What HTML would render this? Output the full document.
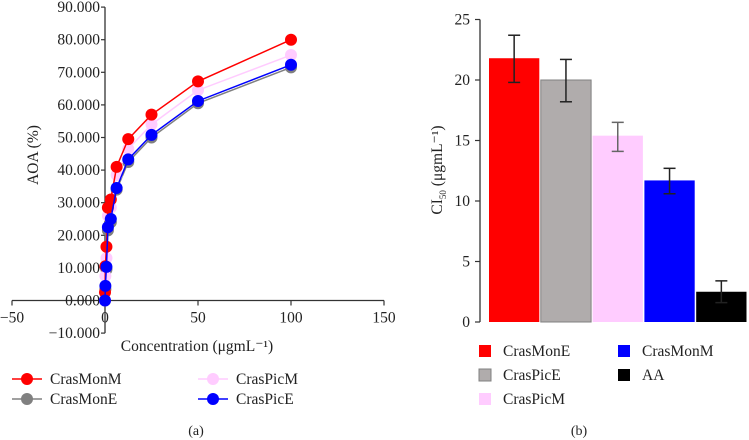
<!DOCTYPE html>
<html><head><meta charset="utf-8"><style>
body{margin:0;background:#fff;}
svg{display:block;font-family:"Liberation Serif",serif;}
</style></head><body>
<svg width="749" height="440" viewBox="0 0 749 440">
<g id="left"></g>
<g id="right"></g>
</svg>
<script>
const seriesNames = ["CrasMonE", "CrasPicM", "CrasMonM", "CrasPicE"];
const valCrasMonE = [0, 3.5, 9.5, 21.5, 24, 34, 42.5, 50, 60.5, 71.5];
const valCrasPicM = [0, 7.5, 13, 26, 28.5, 38.5, 46.5, 54, 64.5, 75.3];
const valCrasMonM = [2.5, 10.5, 16.5, 28.5, 31, 41, 49.5, 57, 67.2, 80];
const valCrasPicE = [0, 4.5, 10.3, 22.5, 25, 34.5, 43.3, 50.8, 61.2, 72.3];
const xConcFull = [0, 0.2, 0.78, 1.56, 3.125, 6.25, 12.5, 25, 50, 100];
const xTicks = [-50, 0, 50, 100, 150];
const yTicks = [-10, 0, 10, 20, 30, 40, 50, 60, 70, 80, 90];
const barCats = ["CrasMonE", "CrasPicE", "CrasPicM", "CrasMonM", "AA"];
const barVals = [21.8, 20, 15.4, 11.7, 2.5];
const barErrHi = [23.7, 21.7, 16.5, 12.7, 3.4];
const barErrLo = [19.8, 18.2, 14.1, 10.6, 1.6];
const barTicks = [0, 5, 10, 15, 20, 25];

const NS = "http://www.w3.org/2000/svg";
const FS = 15.5;
function mk(parent, tag, attrs, text){
  const e = document.createElementNS(NS, tag);
  for (const k in attrs) e.setAttribute(k, attrs[k]);
  if (text !== undefined) e.textContent = text;
  parent.appendChild(e); return e;
}
// ---------- Left chart ----------
const L = document.getElementById('left');
const sx = v => 105 + v * 1.86;
const sy = v => 300.5 - v * 3.26;
let ax = mk(L, 'line', {x1: sx(-50), x2: sx(150), y1: sy(0), y2: sy(0), stroke: '#333', 'stroke-width': 1.3});


let ay = mk(L, 'line', {x1: sx(0), x2: sx(0), y1: sy(90), y2: sy(-10), stroke: '#333', 'stroke-width': 1.3});


xTicks.forEach(t => {
  mk(L, 'line', {x1: sx(t), x2: sx(t), y1: sy(0), y2: sy(0) + 5, stroke: '#333', 'stroke-width': 1.2});
  const tx = mk(L, 'text', {x: sx(t), y: sy(0) + 22, 'text-anchor': 'middle', 'font-size': FS, fill: '#222'}, t < 0 ? '\u2212' + (-t) : String(t));
  
  
});
yTicks.forEach(t => {
  mk(L, 'line', {x1: sx(0) - 4, x2: sx(0), y1: sy(t), y2: sy(t), stroke: '#333', 'stroke-width': 1.2});
  const tx = mk(L, 'text', {x: sx(0) - 5, y: sy(t) + 5, 'text-anchor': 'end', 'font-size': FS, fill: '#222'}, (t < 0 ? '\u2212' + (-t) : t) + '.000');
  
  
});
let yl = mk(L, 'text', {x: 0, y: 0, transform: 'translate(38,155) rotate(-90)', 'text-anchor': 'middle', 'font-size': FS, fill: '#222'}, 'AOA (%)');


let xl = mk(L, 'text', {x: 197, y: 351, 'text-anchor': 'middle', 'font-size': FS, fill: '#222'}, 'Concentration (\u03bcgmL\u207b\u00b9)');


const series = [
  {name: 'CrasMonE', vals: valCrasMonE, col: '#808080'},
  {name: 'CrasPicM', vals: valCrasPicM, col: '#ffccff'},
  {name: 'CrasMonM', vals: valCrasMonM, col: '#ff0000'},
  {name: 'CrasPicE', vals: valCrasPicE, col: '#0000ff'}
];
series.forEach(s => {
  const g = mk(L, 'g', {});
  
  
  const pts = s.vals.map((v, i) => sx(xConcFull[i]) + ',' + sy(v)).join(' ');
  mk(g, 'polyline', {points: pts, fill: 'none', stroke: s.col, 'stroke-width': 1.5});
  s.vals.forEach((v, i) => {
    const c = mk(g, 'circle', {cx: sx(xConcFull[i]), cy: sy(v), r: 6, fill: s.col});
    
    
  });
});
const legA = [
  {name: 'CrasMonM', col: '#ff0000', x: 12, y: 379},
  {name: 'CrasMonE', col: '#808080', x: 12, y: 399},
  {name: 'CrasPicM', col: '#ffccff', x: 198, y: 379},
  {name: 'CrasPicE', col: '#0000ff', x: 198, y: 399}
];
legA.forEach(e => {
  const g = mk(L, 'g', {});
  
  
  mk(g, 'line', {x1: e.x, x2: e.x + 30, y1: e.y, y2: e.y, stroke: e.col, 'stroke-width': 1.5});
  mk(g, 'circle', {cx: e.x + 15, cy: e.y, r: 6, fill: e.col});
  mk(g, 'text', {x: e.x + 38, y: e.y + 5, 'font-size': FS, fill: '#222'}, e.name);
});
let la = mk(L, 'text', {x: 196, y: 435, 'text-anchor': 'middle', 'font-size': 14, fill: '#222'}, '(a)');



// ---------- Right chart ----------
const R = document.getElementById('right');
const by = v => 322 - v * 12.1;
const bx0 = 489, bw = 51.8;
const barCols = ['#ff0000', '#b0acac', '#ffccff', '#0000ff', '#000000'];
barVals.forEach((v, i) => {
  const x = bx0 + i * bw;
  const r = mk(R, 'rect', {x: x, y: by(v), width: bw - 1.5, height: by(0) - by(v), fill: barCols[i], stroke: i === 1 ? '#808080' : 'none', 'stroke-width': 1});
  
  
  const cx = x + bw / 2 - 0.75;
  const eg = mk(R, 'g', {stroke: i === 2 ? '#666' : '#222', 'stroke-width': 1.5});
  
  
  mk(eg, 'line', {x1: cx, x2: cx, y1: by(barErrHi[i]), y2: by(barErrLo[i])});
  mk(eg, 'line', {x1: cx - 6, x2: cx + 6, y1: by(barErrHi[i]), y2: by(barErrHi[i])});
  mk(eg, 'line', {x1: cx - 6, x2: cx + 6, y1: by(barErrLo[i]), y2: by(barErrLo[i])});
});
let bay = mk(R, 'line', {x1: 480, x2: 480, y1: by(25), y2: by(0), stroke: '#333', 'stroke-width': 1.3});


barTicks.forEach(t => {
  mk(R, 'line', {x1: 475, x2: 480, y1: by(t), y2: by(t), stroke: '#333', 'stroke-width': 1.2});
  const tx = mk(R, 'text', {x: 470, y: by(t) + 5, 'text-anchor': 'end', 'font-size': FS, fill: '#222'}, String(t));
  
  
});
let byl = mk(R, 'text', {x: 0, y: 0, transform: 'translate(442,170) rotate(-90)', 'text-anchor': 'middle', 'font-size': FS, fill: '#222'});


byl.innerHTML = 'CI<tspan font-size="9" dy="4">50</tspan><tspan dy="-4"> (\u03bcgmL\u207b\u00b9)</tspan>';
const legB = [
  {i: 0, x: 479, y: 351}, {i: 1, x: 479, y: 375}, {i: 2, x: 479, y: 399},
  {i: 3, x: 618, y: 351}, {i: 4, x: 618, y: 375}
];
legB.forEach(e => {
  const g = mk(R, 'g', {});
  
  
  mk(g, 'rect', {x: e.x, y: e.y - 6, width: 12, height: 12, fill: barCols[e.i], stroke: e.i === 1 ? '#808080' : 'none'});
  mk(g, 'text', {x: e.x + 24, y: e.y + 5, 'font-size': FS, fill: '#222'}, barCats[e.i]);
});
let lb = mk(R, 'text', {x: 579, y: 435, 'text-anchor': 'middle', 'font-size': 14, fill: '#222'}, '(b)');


</script>
</body></html>
